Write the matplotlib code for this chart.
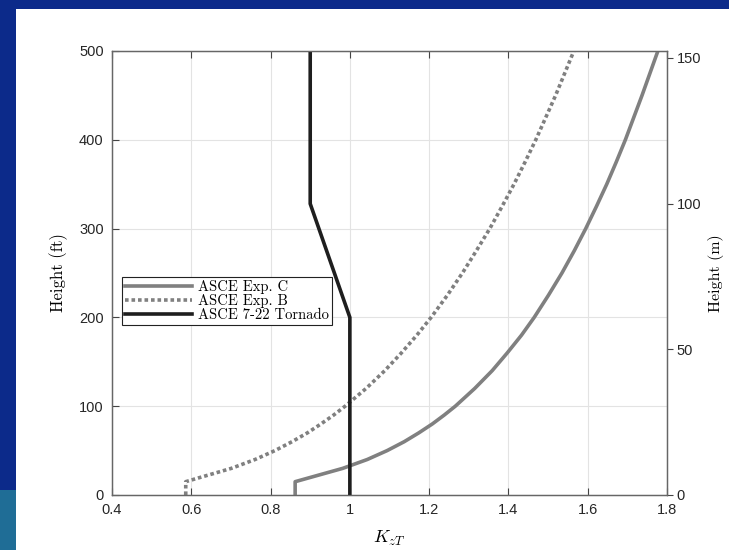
import matplotlib
matplotlib.use('Agg')
import matplotlib.pyplot as plt
from matplotlib.patches import Rectangle

# 高度 (ft)
z_ft = [0, 15, 20, 30, 40, 50, 60, 70, 80, 90, 100, 120, 140, 160, 180, 200,
        225, 250, 275, 300, 325, 350, 375, 400, 425, 450, 475, 500]
# ASCE Exp. C
k_expc = [0.862, 0.862, 0.902, 0.982, 1.044, 1.094, 1.137, 1.174, 1.208, 1.238, 1.266,
          1.315, 1.359, 1.397, 1.433, 1.465, 1.501, 1.535, 1.566, 1.595, 1.622,
          1.648, 1.672, 1.695, 1.716, 1.737, 1.757, 1.777]
# ASCE Exp. B
k_expb = [0.586, 0.586, 0.624, 0.701, 0.761, 0.811, 0.854, 0.893, 0.927, 0.959, 0.988,
          1.041, 1.088, 1.130, 1.169, 1.205, 1.246, 1.284, 1.319, 1.353, 1.384,
          1.414, 1.442, 1.469, 1.494, 1.519, 1.542, 1.565]
# ASCE 7-22 Tornado
z_tor = [0, 200, 328, 500]
k_tor = [1.0, 1.0, 0.9, 0.9]

xticks = [0.4, 0.6, 0.8, 1.0, 1.2, 1.4, 1.6, 1.8]
xticklabels = ['0.4', '0.6', '0.8', '1', '1.2', '1.4', '1.6', '1.8']
yticks_ft = [0, 100, 200, 300, 400, 500]
yticks_m = [0, 50, 100, 150]

plt.rcParams['mathtext.fontset'] = 'cm'
tickfont = 'Liberation Sans'
serif = 'cmr10'

fig = plt.figure(figsize=(7.29, 5.5), dpi=100)
fig.patch.set_facecolor('white')
# 背景蓝边
fig.patches.append(Rectangle((0, 1 - 9 / 550), 1, 9 / 550, transform=fig.transFigure,
                             facecolor='#0c2a8a', edgecolor='none', zorder=0))
fig.patches.append(Rectangle((0, 0), 16 / 729, 1, transform=fig.transFigure,
                             facecolor='#0c2a8a', edgecolor='none', zorder=0))
fig.patches.append(Rectangle((0, 0), 16 / 729, 60 / 550, transform=fig.transFigure,
                             facecolor='#1f6d96', edgecolor='none', zorder=0))

ax = fig.add_axes([112 / 729, 55 / 550, 555 / 729, 444 / 550])
ax.plot(k_expc, z_ft, color='#808080', lw=2.6, label='ASCE Exp. C', zorder=3)
ax.plot(k_expb, z_ft, color='#808080', lw=2.6, ls=(0, (1, 0.8)), label='ASCE Exp. B', zorder=3)
ax.plot(k_tor, z_tor, color='#1e1e1e', lw=2.6, label='ASCE 7-22 Tornado', zorder=4)

ax.set_xlim(0.4, 1.8)
ax.set_ylim(0, 500)
ax.set_xticks(xticks)
ax.set_xticklabels(xticklabels)
ax.set_yticks(yticks_ft)
ax.grid(True, color='#e3e3e3', lw=0.8)
ax.set_axisbelow(True)
ax.tick_params(direction='in', length=5, width=0.8, color='#444444', labelsize=10.5,
               labelcolor='#262626', top=True, pad=6)
for lab in ax.get_xticklabels() + ax.get_yticklabels():
    lab.set_fontfamily(tickfont)
for s in ax.spines.values():
    s.set_color('#666666')
    s.set_linewidth(0.9)

ax.set_xlabel('$K_{zT}$', fontsize=13, labelpad=8)
ax.set_ylabel('Height (ft)', fontfamily=serif, fontsize=12, labelpad=8)

ax2 = ax.twinx()
ax2.set_ylim(0, 500 * 0.3048)
ax2.set_yticks(yticks_m)
ax2.tick_params(direction='out', length=4, width=0.8, color='#444444', labelsize=10.5,
                labelcolor='#262626', pad=3)
for lab in ax2.get_yticklabels():
    lab.set_fontfamily(tickfont)
for s in ax2.spines.values():
    s.set_color('#666666')
    s.set_linewidth(0.9)
ax2.set_ylabel('Height (m)', fontfamily=serif, fontsize=11.5, labelpad=5)

leg = ax.legend(loc='upper left', bbox_to_anchor=(0.018, 0.49), frameon=True, fancybox=False,
                edgecolor='#222222', framealpha=1, prop={'family': serif, 'size': 10.5},
                handlelength=4.6, handletextpad=0.4, borderpad=0.2, labelspacing=0.0,
                borderaxespad=0)
leg.get_frame().set_linewidth(0.8)

fig.savefig('out.png', dpi=100)
